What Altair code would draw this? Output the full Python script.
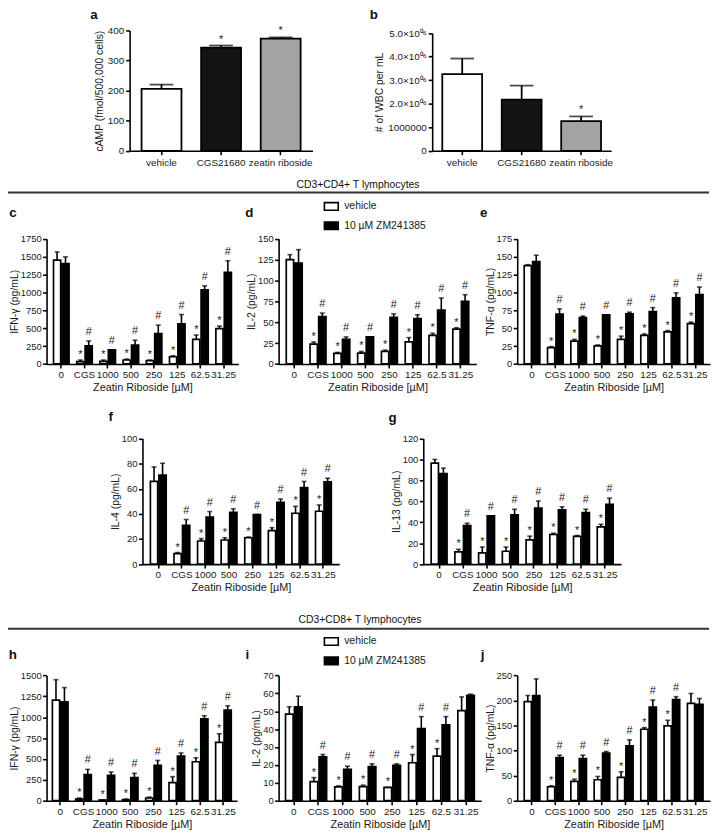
import altair as alt
import pandas as pd

FONT = "Liberation Sans"
W, H = 712, 824          # plot canvas (padding top 5)
def px(x):               # page x -> chart x
    return x - 8
def py(y):               # page y -> chart y
    return y - 13

GROUPS = ["0", "CGS", "1000", "500", "250", "125", "62.5", "31.25"]
SERIES = ["vehicle", "10 µM ZM241385"]
STAR7 = ["", "*", "*", "*", "*", "*", "*", "*"]
HASH7 = ["", "#", "#", "#", "#", "#", "#", "#"]
STAR6 = ["", "*", "*", "*", "*", "*", "*", ""]
HASH6 = ["", "#", "#", "#", "#", "#", "#", ""]

# ---- panel a: cAMP
a_cats = ["vehicle", "CGS21680", "zeatin riboside"]
a_mean = [206, 343, 373]
a_top = [220, 350, 377]
a_sig = ["", "*", "*"]

# ---- panel b: WBC per mL
b_cats = ["vehicle", "CGS21680", "zeatin riboside"]
b_mean = [3260000, 2170000, 1260000]
b_top = [3920000, 2770000, 1460000]
b_sig = ["", "", "*"]

# ---- CD3+CD4+ panels
c_veh = [1451, 32, 37, 55, 46, 101, 345, 493]
c_veh_top = [1566, 55, 55, 69, 55, 115, 405, 530]
c_zm = [1405, 253, 198, 263, 424, 562, 1036, 1281]
c_zm_top = [1497, 322, 198, 332, 543, 691, 1092, 1442]

d_veh = [125, 23.7, 12.6, 13, 15, 26.4, 34.3, 41.8]
d_veh_top = [131, 26.4, 13.8, 15, 16.6, 31.6, 36.7, 43.4]
d_zm = [121, 56.8, 29.6, 32.4, 56, 54.5, 64.7, 75]
d_zm_top = [137, 61, 32.4, 32.4, 60, 59, 79, 83]

e_veh = [137.4, 22.9, 32, 25.2, 34.4, 39.9, 44.9, 56.3]
e_veh_top = [138.8, 24.3, 34.4, 26.6, 38.9, 42, 46.7, 58.6]
e_zm = [143, 69.6, 65, 68.7, 70, 73.3, 92.5, 97]
e_zm_top = [152, 77, 67, 68.7, 72.4, 78.8, 99.4, 107.6]

f_veh = [65.8, 8.4, 18.4, 19.2, 21, 26.6, 40.5, 42.1]
f_veh_top = [77.4, 9.2, 20.3, 21, 21.6, 29, 46, 47.1]
f_zm = [70.8, 30.8, 37.4, 41.3, 39.5, 49.2, 61, 65.5]
f_zm_top = [80.3, 35.5, 41.8, 44, 39.5, 51.8, 65.8, 68.4]

g_veh = [96.4, 11.6, 10.7, 12.3, 23.2, 28.3, 26.4, 35.5]
g_veh_top = [100, 14.1, 16.3, 16.3, 26.7, 29.5, 27.3, 38]
g_zm = [86.4, 36.8, 46.2, 47.1, 53.4, 51.8, 49.3, 57]
g_zm_top = [91.7, 39, 46.2, 52.4, 60.3, 54.7, 52.4, 63]

# ---- CD3+CD8+ panels
h_veh = [1204, 20, 8, 12, 32, 217, 466, 699]
h_veh_top = [1449, 32, 8, 20, 43, 288, 513, 801]
h_zm = [1184, 312, 304, 276, 422, 533, 979, 1086]
h_zm_top = [1354, 375, 343, 328, 482, 572, 1018, 1137]

i_veh = [48.4, 10.7, 7.7, 7.9, 7.4, 21.2, 24.9, 50.3]
i_veh_top = [52.5, 12.9, 8.3, 8.7, 7.4, 25.8, 29.1, 58]
i_zm = [52.5, 24.5, 17.5, 19, 19.7, 40.3, 42.4, 58.9]
i_zm_top = [58.4, 25.8, 19.3, 20.6, 20.6, 47, 47, 59.5]

j_veh = [197.6, 27.9, 38.5, 41.8, 46.4, 142.6, 149.2, 194.3]
j_veh_top = [210, 29.8, 43, 48.4, 57.7, 145.9, 160.5, 214]
j_zm = [210, 86.2, 84.2, 94.8, 109.4, 187, 202, 192.3]
j_zm_top = [243, 90.8, 90.8, 98.1, 121.4, 201, 207.6, 204]

TEXT = "#1a1a1a"


def sig_layers(base, Y, star_dy, hash_dy, size):
    star = base.transform_filter("datum.sig == '*'").mark_text(
        font=FONT, fontSize=size, baseline="alphabetic", dy=star_dy, color=TEXT
    ).encode(y=Y("hi"), text="sig:N")
    hsh = base.transform_filter("datum.sig == '#'").mark_text(
        font=FONT, fontSize=size, baseline="alphabetic", dy=hash_dy, color=TEXT
    ).encode(y=Y("hi"), text="sig:N")
    return star, hsh


def grouped_panel(veh, veh_top, zm, zm_top, veh_sig, zm_sig, ymax, ystep, ytitle,
                  xr, yr, po, legend=None):
    rows = []
    for i, g in enumerate(GROUPS):
        rows.append(dict(group=g, series=SERIES[0], val=veh[i], hi=veh_top[i], sig=veh_sig[i]))
        rows.append(dict(group=g, series=SERIES[1], val=zm[i], hi=zm_top[i], sig=zm_sig[i]))
    df = pd.DataFrame(rows)
    xscale = alt.Scale(domain=GROUPS, range=[px(xr[0]), px(xr[1])],
                       paddingInner=0.33, paddingOuter=po)
    xaxis = alt.Axis(orient="bottom", offset=py(yr[0]) - H, title="Zeatin Riboside [µM]",
                     labelAngle=0, labelOverlap=False, labelPadding=2, titlePadding=2,
                     labelFontSize=10, titleFontSize=11)
    x = alt.X("group:N", sort=GROUPS, scale=xscale, axis=xaxis)
    xo = alt.XOffset("series:N", sort=SERIES,
                     scale=alt.Scale(domain=SERIES, paddingInner=0.15, paddingOuter=0))
    yscale = alt.Scale(domain=[0, ymax], range=[py(yr[0]), py(yr[1])], nice=False, zero=True)
    yaxis = alt.Axis(orient="left", offset=-px(xr[0]), values=list(range(0, ymax + 1, ystep)),
                     format="d", titlePadding=1, labelPadding=1.5, titleFontSize=10.5)

    def Y(f):
        return alt.Y(f"{f}:Q", scale=yscale, axis=yaxis, title=ytitle)

    base = alt.Chart(df).encode(x=x, xOffset=xo)
    bars = base.mark_bar(stroke="black", strokeWidth=1.7).encode(
        y=Y("val"),
        fill=alt.Fill("series:N", sort=SERIES,
                      scale=alt.Scale(domain=SERIES, range=["white", "black"]), legend=legend),
    )
    err = base.mark_rule(color="black", strokeWidth=1.6).encode(y=Y("val"), y2="hi:Q")
    cap = base.mark_tick(color="black", thickness=1.6, size=5).encode(y=Y("hi"))
    star, hsh = sig_layers(base, Y, -2, -6, 11)
    return alt.layer(bars, err, cap, star, hsh)


def simple_panel(cats, mean, top, sig, colors, ymax, values, ytitle, xr, yr, po,
                 label_expr=None):
    df = pd.DataFrame(dict(cat=cats, val=mean, hi=top, sig=sig))
    xscale = alt.Scale(domain=cats, range=[px(xr[0]), px(xr[1])], paddingInner=0.33,
                       paddingOuter=po)
    xaxis = alt.Axis(orient="bottom", offset=py(yr[0]) - H, title=None, labelAngle=0,
                     labelOverlap=False, labelFontSize=10, labelPadding=3)
    x = alt.X("cat:N", sort=cats, scale=xscale, axis=xaxis)
    yscale = alt.Scale(domain=[0, ymax], range=[py(yr[0]), py(yr[1])], nice=False, zero=True)
    axis_kw = dict(orient="left", offset=-px(xr[0]), values=values, titlePadding=3,
                   labelFontSize=10, format="d")
    if label_expr:
        axis_kw["labelExpr"] = label_expr
    yaxis = alt.Axis(**axis_kw)

    def Y(f):
        return alt.Y(f"{f}:Q", scale=yscale, axis=yaxis, title=ytitle)

    base = alt.Chart(df).encode(x=x)
    bars = base.mark_bar(stroke="black", strokeWidth=1.8).encode(
        y=Y("val"),
        fill=alt.Fill("cat:N", sort=cats, scale=alt.Scale(domain=cats, range=colors), legend=None),
    )
    err = base.mark_rule(color="black", strokeWidth=1.8).encode(y=Y("val"), y2="hi:Q")
    cap = base.mark_tick(color="black", thickness=1.8, size=24).encode(y=Y("hi"))
    star, _ = sig_layers(base, Y, -3, -7, 11)
    return alt.layer(bars, err, cap, star)


def leg(y_page):
    return alt.Legend(orient="none", legendX=px(327), legendY=py(y_page) - 7, title=None,
                      symbolType="M-1,-0.55H1V0.55H-1Z", symbolSize=196,
                      symbolStrokeColor="black", symbolStrokeWidth=1.6,
                      labelFont=FONT, labelFontSize=10.5, labelColor=TEXT,
                      labelOffset=5, rowPadding=3.5, padding=0)


panel_a = simple_panel(a_cats, a_mean, a_top, a_sig, ["white", "#141414", "#a3a3a3"],
                       400, [0, 100, 200, 300, 400], "cAMP (fmol/500,000 cells)",
                       (131, 316), (147.7, 26), 0.2)
panel_b = simple_panel(b_cats, b_mean, b_top, b_sig, ["white", "#141414", "#a3a3a3"],
                       5000000, [0, 1000000, 2000000, 3000000, 4000000, 5000000],
                       "# of WBC per mL", (437, 618), (147.7, 28.7), 0.17,
                       label_expr="datum.value == 0 ? '0' : datum.value == 1000000 ? '1000000' : "
                                  "format(datum.value / 1000000, '.1f') + '×10⁰⁶'")

panel_c = grouped_panel(c_veh, c_veh_top, c_zm, c_zm_top, STAR7, HASH7, 1750, 250,
                        "IFN-γ (pg/mL)", (47, 241), (363.3, 236.7), 0.3)
panel_d = grouped_panel(d_veh, d_veh_top, d_zm, d_zm_top, STAR7, HASH7, 150, 25,
                        "IL-2 (pg/mL)", (281.7, 481.7), (363.3, 236.7), 0.321, legend=leg(203))
panel_e = grouped_panel(e_veh, e_veh_top, e_zm, e_zm_top, STAR7, HASH7, 175, 25,
                        "TNF-α (pg/mL)", (523, 718), (363.3, 236.7), 0.3)
panel_f = grouped_panel(f_veh, f_veh_top, f_zm, f_zm_top, STAR7, HASH7, 100, 20,
                        "IL-4 (pg/mL)", (144, 343), (565.7, 438.7), 0.336)
panel_g = grouped_panel(g_veh, g_veh_top, g_zm, g_zm_top, STAR7, HASH7, 120, 20,
                        "IL-13 (pg/mL)", (428, 628), (565.7, 438.7), 0.332)
panel_h = grouped_panel(h_veh, h_veh_top, h_zm, h_zm_top, STAR7, HASH7, 1500, 250,
                        "IFN-γ (pg/mL)", (47, 239.7), (805, 678.3), 0.25)
panel_i = grouped_panel(i_veh, i_veh_top, i_zm, i_zm_top, STAR6, HASH6, 70, 10,
                        "IL-2 (pg/mL)", (281.7, 486.6), (805, 678.3), 0.28, legend=leg(643))
panel_j = grouped_panel(j_veh, j_veh_top, j_zm, j_zm_top, STAR6, HASH6, 250, 50,
                        "TNF-α (pg/mL)", (523, 718), (805, 678.3), 0.3)

one = pd.DataFrame({"k": [0]})


def label(text, x, y, size=13.5, weight="bold"):
    return alt.Chart(pd.DataFrame({"t": [text]})).mark_text(
        font=FONT, fontSize=size, fontWeight=weight, align="center", baseline="middle",
        color="#111"
    ).encode(x=alt.value(px(x)), y=alt.value(py(y)), text="t:N")


def hline(y):
    return alt.Chart(one).mark_rule(color="#333", strokeWidth=2).encode(
        x=alt.value(px(3)), x2=alt.value(px(717)), y=alt.value(py(y)))


annotations = [
    label("a", 95, 10), label("b", 378, 10),
    label("c", 13, 211), label("d", 252, 211), label("e", 489, 211),
    label("f", 112, 417), label("g", 397, 418),
    label("h", 13, 658), label("i", 250, 658), label("j", 488, 658),
    label("CD3+CD4+ T lymphocytes", 362, 182, size=10.5, weight="normal"),
    label("CD3+CD8+ T lymphocytes", 364, 622, size=10.5, weight="normal"),
    hline(190), hline(631),
]

chart = alt.layer(
    panel_a, panel_b, panel_c, panel_d, panel_e, panel_f, panel_g,
    panel_h, panel_i, panel_j, *annotations
).resolve_scale(
    x="independent", y="independent", fill="independent", xOffset="independent"
).resolve_axis(
    x="independent", y="independent"
).resolve_legend(
    fill="independent"
).properties(
    width=W, height=H,
    autosize=alt.AutoSizeParams(type="none"),
    padding={"top": 5, "left": 0, "right": 0, "bottom": 0},
).configure_view(
    stroke=None
).configure_axis(
    domainColor="black", domainWidth=1.6, tickColor="black", tickWidth=1.6, tickSize=4,
    labelFont=FONT, titleFont=FONT, labelColor=TEXT, titleColor=TEXT,
    labelFontSize=9.5, titleFontSize=10.5, titleFontWeight="normal", grid=False,
)

chart.save("out.html", embed_options={"renderer": "svg", "actions": False})
